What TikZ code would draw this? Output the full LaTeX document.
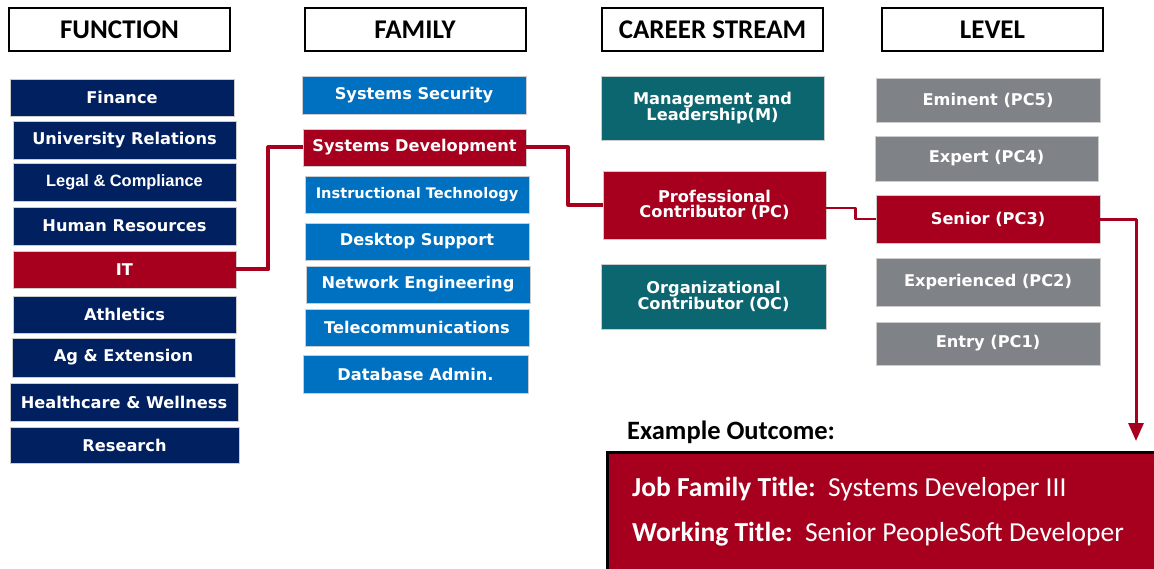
\documentclass[tikz,border=0pt]{standalone}
\usepackage{fontspec}
\setmainfont{DejaVu Sans}
\newfontfamily\boxfont{DejaVu Sans}
\newfontfamily\arialfont{Liberation Sans}
\newfontfamily\calfont{Carlito}
\usetikzlibrary{arrows.meta}
\definecolor{navy}{RGB}{0,32,96}
\definecolor{famblue}{RGB}{0,112,192}
\definecolor{teal2}{RGB}{12,102,112}
\definecolor{lvlgray}{RGB}{127,131,135}
\definecolor{uared}{RGB}{166,0,30}
\tikzset{
  cell/.style={inner sep=0pt, align=center, text=white, font=\boxfont\bfseries\fontsize{16.2}{16.5}\selectfont, draw=white!80!black, line width=0.6pt},
  navycell/.style={cell, fill=navy},
  bluecell/.style={cell, fill=famblue},
  tealcell/.style={cell, fill=teal2},
  graycell/.style={cell, fill=lvlgray},
  redcell/.style={cell, fill=uared},
  header/.style={draw=black, line width=2pt, fill=white, inner sep=0pt, minimum width=221pt, minimum height=43pt, font=\calfont\bfseries\fontsize{27}{28}\selectfont},
  link/.style={draw=uared, line width=4pt, line join=round},
  thinlink/.style={draw=uared, line width=2.6pt, line join=round},
}
\begin{document}
\begin{tikzpicture}[x=1pt,y=-1pt]
\useasboundingbox (0,0) rectangle (1154,569);
\clip (0,0) rectangle (1154,569);
% headers
\node[header] (hfun) at (119.5,30) {FUNCTION};
\node[header] (hfam) at (415,30) {FAMILY};
\node[header] (hcar) at (712.5,30) {CAREER STREAM};
\node[header] (hlev) at (992.5,30) {LEVEL};
% function column
\node[navycell, minimum width=224pt, minimum height=37pt] (finance) at (122,97.5) {Finance};
\node[navycell, minimum width=223pt, minimum height=38pt] (univ) at (124.5,140) {University Relations};
\node[navycell, minimum width=223pt, minimum height=38pt, font=\arialfont\bfseries\fontsize{16.4}{17}\selectfont] (legal) at (124.5,182) {Legal \& Compliance};
\node[navycell, minimum width=223pt, minimum height=38pt] (hr) at (124.5,226) {Human Resources};
\node[redcell, minimum width=223pt, minimum height=37pt] (it) at (124.5,269.5) {IT};
\node[navycell, minimum width=223pt, minimum height=37pt] (athl) at (124.5,314.5) {Athletics};
\node[navycell, minimum width=223pt, minimum height=39pt] (ag) at (123.5,357.5) {Ag \& Extension};
\node[navycell, minimum width=228pt, minimum height=38pt] (health) at (124,402) {Healthcare \& Wellness};
\node[navycell, minimum width=229pt, minimum height=36pt] (research) at (124.5,445) {Research};
% family column
\node[bluecell, minimum width=224pt, minimum height=38pt] (secur) at (414,95) {Systems Security};
\node[redcell, minimum width=223pt, minimum height=37pt] (sysdev) at (414.5,147.5) {Systems Development};
\node[bluecell, minimum width=224pt, minimum height=37pt, font=\boxfont\bfseries\fontsize{14.6}{15}\selectfont] (instr) at (417,194.5) {Instructional Technology};
\node[bluecell, minimum width=224pt, minimum height=37pt] (desk) at (417,241.5) {Desktop Support};
\node[bluecell, minimum width=224pt, minimum height=37pt] (net) at (418,284.5) {Network Engineering};
\node[bluecell, minimum width=224pt, minimum height=37pt] (tele) at (417,327.5) {Telecommunications};
\node[bluecell, minimum width=225pt, minimum height=38pt] (dba) at (415.5,374) {Database Admin.};
% career stream column
\node[tealcell, minimum width=223pt, minimum height=64pt] (mgmt) at (712.5,108) {Management and\\[-1pt]Leadership(M)};
\node[redcell, minimum width=223pt, minimum height=68pt] (pc) at (714.5,205) {Professional\\[-1pt]Contributor (PC)};
\node[tealcell, minimum width=225pt, minimum height=65pt] (oc) at (713.5,296.5) {Organizational\\[-1pt]Contributor (OC)};
% level column
\node[graycell, minimum width=224pt, minimum height=44pt] (pc5) at (988,100) {Eminent (PC5)};
\node[graycell, minimum width=223pt, minimum height=45pt] (pc4) at (986.5,158.5) {Expert (PC4)};
\node[redcell, minimum width=224pt, minimum height=48pt] (pc3) at (988,219) {Senior (PC3)};
\node[graycell, minimum width=224pt, minimum height=48pt] (pc2) at (988,282) {Experienced (PC2)};
\node[graycell, minimum width=224pt, minimum height=43pt] (pc1) at (988,343.5) {Entry (PC1)};
% outcome
\node[anchor=west, inner sep=0pt, font=\calfont\bfseries\fontsize{26.5}{28}\selectfont] (extitle) at (627,432) {Example Outcome:};
\node[draw=black, line width=3pt, fill=uared, anchor=north west, minimum width=560pt, minimum height=130pt, inner sep=0pt] (outbox) at (606,451) {};
\node[anchor=west, inner sep=0pt, text=white, font=\calfont\fontsize{27.5}{29}\selectfont] (line1) at (632,489) {\textbf{Job Family Title:}\ \ Systems Developer III};
\node[anchor=west, inner sep=0pt, text=white, font=\calfont\fontsize{27.5}{29}\selectfont] (line2) at (632,534) {\textbf{Working Title:}\ \ Senior PeopleSoft Developer};
\coordinate (arrowend) at (1136,441);
% connectors
\draw[link] (it.east) -- ++(32,0) |- (sysdev.west);
\draw[link] (sysdev.east) -- ++(42,0) |- (pc.west);
\draw[thinlink] ([yshift=-3pt]pc.east) -- ++(29,0) |- (pc3.west);
\draw[thinlink, line width=3pt, -{Triangle[length=18pt,width=15pt]}] ([yshift=-1pt]pc3.east) -| (arrowend);
\end{tikzpicture}
\end{document}
